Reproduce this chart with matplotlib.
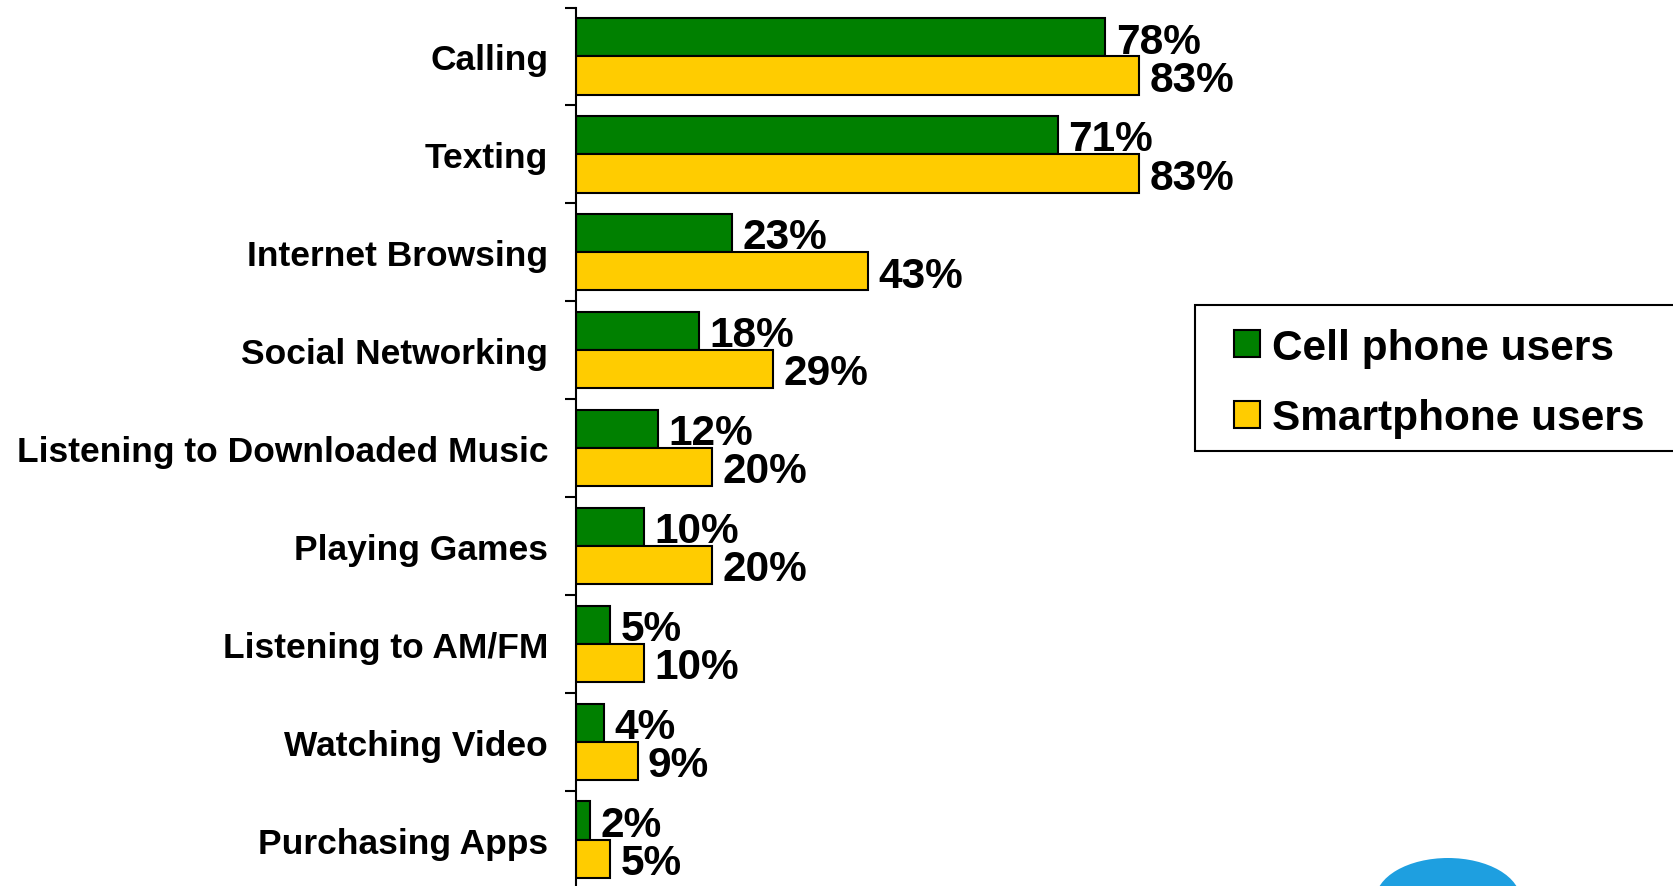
import matplotlib
matplotlib.use("Agg")
import matplotlib.pyplot as plt
from matplotlib.patches import Rectangle, Ellipse, Patch

categories = ["Calling", "Texting", "Internet Browsing", "Social Networking",
              "Listening to Downloaded Music", "Playing Games",
              "Listening to AM/FM", "Watching Video", "Purchasing Apps"]
cell_phone = [78, 71, 23, 18, 12, 10, 5, 4, 2]
smartphone = [83, 83, 43, 29, 20, 20, 10, 9, 5]
series_names = ["Cell phone users", "Smartphone users"]

green = "#008000"
yellow = "#FFCC00"

plt.rcParams['font.family'] = ['Liberation Sans', 'DejaVu Sans']
plt.rcParams['font.weight'] = 'bold'

W, H = 1674, 887
fig = plt.figure(figsize=(W / 100, H / 100), dpi=100)
ax = fig.add_axes([576.5 / W, -2.6 / H, 1 - 576.5 / W, 881.1 / H])

y = list(range(len(categories)))
h = 0.39
ax.barh([i - 0.195 for i in y], cell_phone, height=h, color=green,
        edgecolor="black", linewidth=1.5)
ax.barh([i + 0.195 for i in y], smartphone, height=h, color=yellow,
        edgecolor="black", linewidth=1.5)

for i in y:
    ax.annotate(f"{cell_phone[i]}%", (cell_phone[i], i - 0.195), xytext=(7.5, -3),
                textcoords="offset points", va="center", ha="left",
                fontsize=30.5, fontweight="bold")
    ax.annotate(f"{smartphone[i]}%", (smartphone[i], i + 0.195), xytext=(7.5, -3),
                textcoords="offset points", va="center", ha="left",
                fontsize=30.5, fontweight="bold")

ax.set_xlim(0, (W - 576.5) / 6.78)
ax.set_ylim(len(categories) - 0.5, -0.5)

ax.set_yticks([i - 0.5 for i in range(len(categories) + 1)])
ax.set_yticklabels([])
ax.tick_params(axis="y", which="major", length=8, width=1.5, direction="out")
ax.set_yticks(y, minor=True)
ax.set_yticklabels(categories, minor=True, fontsize=25.5, fontweight="bold")
ax.tick_params(axis="y", which="minor", length=0, pad=20.5)
ax.set_xticks([])

for s in ["top", "right", "bottom"]:
    ax.spines[s].set_visible(False)
ax.spines["left"].set_linewidth(1.5)

# legend box
fig.patches.append(Rectangle((1195 / W, 1 - 452 / H), (W - 1195 + 5) / W, 146 / H,
                             transform=fig.transFigure, facecolor="white",
                             edgecolor="black", linewidth=1.5, zorder=5))
handles = [Patch(facecolor=green, edgecolor="black", linewidth=1.5),
           Patch(facecolor=yellow, edgecolor="black", linewidth=1.5)]
leg = fig.legend(handles, series_names, loc="upper left",
                 bbox_to_anchor=(1204 / W, 1 - 299 / H), frameon=False,
                 prop={"size": 30.5, "weight": "bold"}, handlelength=0.62,
                 handleheight=0.62, handletextpad=0.28, labelspacing=0.72,
                 borderpad=0.2)
leg.set_zorder(6)

# partial logo at bottom right
fig.patches.append(Ellipse((1448 / W, -14 / H), 145 / W, 84 / H,
                           transform=fig.transFigure, facecolor="#1E9FE0",
                           edgecolor="none", zorder=4))

fig.savefig("out.png", dpi=100)
